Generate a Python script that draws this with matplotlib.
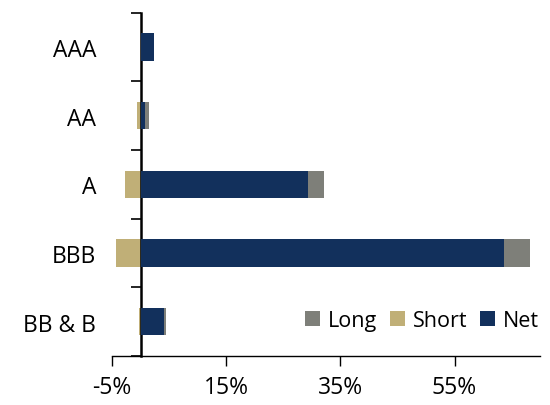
import numpy as np
import matplotlib
matplotlib.use('Agg')
import matplotlib.pyplot as plt

# ratings and exposures (% of portfolio)
ratings = ['AAA', 'AA', 'A', 'BBB', 'BB & B']
long_pos = [2.3, 1.5, 32.1, 68.2, 4.4]
short_pos = [0.0, -0.6, -2.7, -4.4, -0.3]
net_pos = [2.3, 0.8, 29.4, 63.6, 4.1]
xticks = [-5, 15, 35, 55]

plt.rcParams['font.family'] = ['Open Sans', 'DejaVu Sans']

fig = plt.figure(figsize=(5.5, 4.06), dpi=100)
ax = fig.add_axes([0.204, 0.121, 0.778, 0.845])

y = np.arange(len(ratings))
h = 0.4
ax.barh(y, long_pos, height=h, color='#7e7f79', label='Long', zorder=2)
ax.barh(y, short_pos, height=h, color='#c0af77', label='Short', zorder=2)
ax.barh(y, net_pos, height=h, color='#12305c', label='Net', zorder=3)

ax.set_xlim(-5, 70)
ax.set_ylim(4.5, -0.5)
ax.set_xticks(xticks)
ax.set_xticklabels([str(t) + '%' for t in xticks])

ax.set_yticks(y)
ax.set_yticklabels(ratings, color='#111111')
ax.set_yticks(np.arange(-0.5, len(ratings), 1.0), minor=True)
ax.tick_params(axis='y', which='major', length=0, pad=32, labelsize=16.5)
ax.tick_params(axis='y', which='minor', length=7, width=1.2, direction='out')
ax.tick_params(axis='x', length=7, width=1.0, direction='out', labelsize=16.5, pad=7)

ax.spines['left'].set_position(('data', 0))
ax.spines['left'].set_linewidth(1.8)
ax.spines['bottom'].set_linewidth(1.0)
ax.spines['top'].set_visible(False)
ax.spines['right'].set_visible(False)

ax.legend(loc='lower right', ncol=3, frameon=False, fontsize=15.5,
          handlelength=0.7, handleheight=0.7, handletextpad=0.35,
          columnspacing=0.6, borderaxespad=0.1, bbox_to_anchor=(1.022, 0.04))

fig.savefig('out.png', dpi=100)
